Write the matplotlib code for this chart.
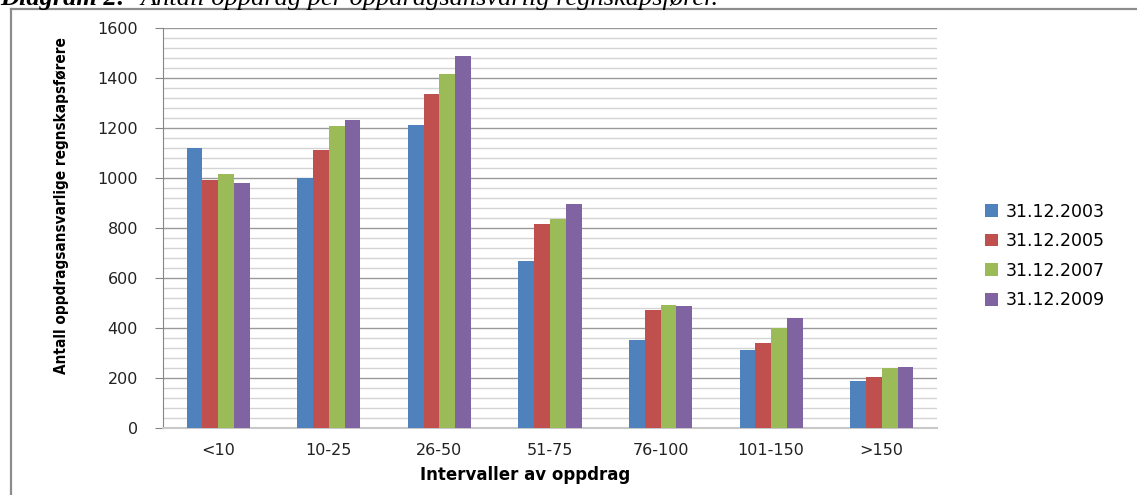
import numpy as np
import matplotlib
matplotlib.use('Agg')
import matplotlib.pyplot as plt
from matplotlib.lines import Line2D
from matplotlib.ticker import MultipleLocator

categories = ['<10', '10-25', '26-50', '51-75', '76-100', '101-150', '>150']
series = ['31.12.2003', '31.12.2005', '31.12.2007', '31.12.2009']
v2003 = [1120, 1000, 1212, 668, 351, 313, 188]
v2005 = [992, 1113, 1335, 815, 474, 341, 203]
v2007 = [1017, 1207, 1417, 836, 493, 401, 240]
v2009 = [982, 1233, 1490, 895, 487, 441, 244]
colors = ['#4F81BD', '#C0504D', '#9BBB59', '#8064A2']

W, H = 1137, 495
fig = plt.figure(figsize=(W / 100, H / 100), dpi=100)
ax = fig.add_axes([163 / W, 1 - 428 / H, 774 / W, 400 / H])

x = np.arange(len(categories))
bw = 0.143
for i, vals in enumerate([v2003, v2005, v2007, v2009]):
    ax.bar(x + (i - 1.5) * bw, vals, bw, color=colors[i], label=series[i], zorder=3)

ax.set_xlim(-0.5, len(categories) - 0.5)
ax.set_ylim(0, 1600)
ax.yaxis.set_major_locator(MultipleLocator(200))
ax.yaxis.set_minor_locator(MultipleLocator(40))
ax.grid(which='major', axis='y', color='#9a9a9a', linewidth=1.0, zorder=0)
ax.grid(which='minor', axis='y', color='#d4d4d4', linewidth=1.0, zorder=0)
ax.set_axisbelow(True)

for s in ['top', 'right']:
    ax.spines[s].set_visible(False)
ax.spines['left'].set_color('#868686')
ax.spines['bottom'].set_color('#c8c8c8')
ax.spines['bottom'].set_linewidth(1.5)

ax.set_xticks(x)
ax.set_xticklabels(categories, fontsize=11.5, color='#222222')
ax.tick_params(axis='x', length=0, pad=11)
ax.tick_params(axis='y', which='major', length=6, color='#868686', labelsize=11.5,
               labelcolor='#222222', pad=12)
ax.tick_params(axis='y', which='minor', length=0)

ax.set_xlabel('Intervaller av oppdrag', fontsize=12, fontweight='bold')
ax.xaxis.set_label_coords((525 - 163) / 774, -0.095)
ax.set_ylabel('Antall oppdragsansvarlige regnskapsførere', fontsize=11,
              fontweight='bold', fontstretch='condensed')
ax.yaxis.set_label_coords((69 - 163) / 774, (428 - 206) / 400)

ax.legend(loc='center left', bbox_to_anchor=(978 / W, 1 - 256 / H),
          bbox_transform=fig.transFigure, frameon=False, fontsize=12.5,
          handlelength=0.75, handleheight=0.75, handletextpad=0.45,
          labelspacing=0.67, borderaxespad=0)

# outer chart border (left and top)
fig.add_artist(Line2D([10.5 / W, 10.5 / W], [0, 1 - 9 / H], color='#8c8c8c',
                      linewidth=1.6, transform=fig.transFigure))
fig.add_artist(Line2D([10.5 / W, 1], [1 - 9 / H, 1 - 9 / H], color='#8c8c8c',
                      linewidth=1.6, transform=fig.transFigure))

# caption above the chart, cut by the top edge
fig.text(0.0, 1 - 5 / H, 'Diagram 2:', fontsize=19, family='Liberation Serif',
         style='italic', fontweight='bold', va='baseline', ha='left')
fig.text(140 / W, 1 - 5 / H, 'Antall oppdrag per oppdragsansvarlig regnskapsfører.',
         fontsize=19, family='Liberation Serif', style='italic', va='baseline', ha='left')

fig.savefig('out.png', dpi=100)
